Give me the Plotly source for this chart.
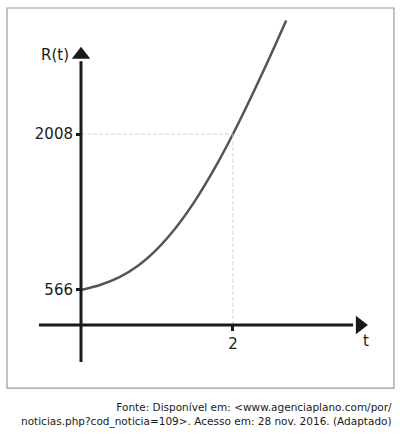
import plotly.graph_objects as go

# curve
t_vals = [0, 0.25, 0.5, 0.75, 1.0, 1.25, 1.5, 1.75, 2.0, 2.25, 2.5, 2.7]
r_vals = [566, 612, 682, 790, 944, 1144, 1390, 1680, 2008, 2366, 2744, 3058]

y_ticks = [566, 2008]
x_ticks = [2]
t_mark = 2
r_mark = 2008

footer = ("Fonte: Disponível em: &lt;www.agenciaplano.com/por/<br>"
          "noticias.php?cod_noticia=109&gt;. Acesso em: 28 nov. 2016. (Adaptado)")

# where the drawn axes sit (data units)
x_axis_r = 242.5
x_axis_from, x_axis_to = -0.553, 3.58
y_axis_from, y_axis_to = -100, 2680

font = "DejaVu Sans"
ink = "#1a1a1a"

fig = go.Figure()

fig.add_trace(go.Scatter(x=t_vals, y=r_vals, mode="lines",
                         line=dict(color="#555555", width=2.5, shape="spline", smoothing=0.8),
                         hoverinfo="skip"))

# arrow heads
fig.add_trace(go.Scatter(x=[3.67], y=[x_axis_r], mode="markers",
                         marker=dict(symbol="triangle-right", size=16, color=ink),
                         hoverinfo="skip", cliponaxis=False))
fig.add_trace(go.Scatter(x=[0], y=[2740], mode="markers",
                         marker=dict(symbol="triangle-up", size=16, color=ink),
                         hoverinfo="skip", cliponaxis=False))

# dashed guides
guide = dict(color="#d4d4d4", width=1, dash="4px,2px")
fig.add_shape(type="line", x0=0, x1=t_mark, y0=r_mark, y1=r_mark, line=guide)
fig.add_shape(type="line", x0=t_mark, x1=t_mark, y0=x_axis_r, y1=r_mark, line=guide)

# axis lines
fig.add_shape(type="line", x0=x_axis_from, x1=x_axis_to, y0=x_axis_r, y1=x_axis_r,
              line=dict(color=ink, width=3))
fig.add_shape(type="line", x0=0, x1=0, y0=y_axis_from, y1=y_axis_to,
              line=dict(color=ink, width=3))

# frame
fig.add_shape(type="rect", xref="paper", yref="paper",
              x0=0.0174, x1=0.980, y0=0.110, y1=0.9817,
              line=dict(color="#999999", width=1.2))

fig.add_annotation(x=-0.13, y=2738, text="R(t)", showarrow=False, xanchor="right",
                   font=dict(family=font, size=15, color=ink))
fig.add_annotation(x=3.75, y=95, text="t", showarrow=False,
                   font=dict(family=font, size=15, color=ink))
fig.add_annotation(xref="paper", yref="paper", x=0.980, y=0.0493, text=footer,
                   showarrow=False, xanchor="right", yanchor="middle", align="right",
                   font=dict(family=font, size=10.5, color=ink))

fig.update_layout(
    width=402, height=436,
    margin=dict(l=0, r=0, t=0, b=0),
    paper_bgcolor="white", plot_bgcolor="white",
    showlegend=False,
    xaxis=dict(range=[-1.066, 4.224], domain=[0, 1], anchor="free", position=0.2546,
               showgrid=False, zeroline=False, showline=False,
               tickvals=x_ticks, ticks="outside", ticklen=5, tickwidth=3, tickcolor=ink,
               tickfont=dict(family=font, size=15, color=ink)),
    yaxis=dict(range=[-784, 3247], domain=[0, 1], anchor="free", position=0.2015,
               showgrid=False, zeroline=False, showline=False,
               tickvals=y_ticks, ticks="outside", ticklen=5, tickwidth=3, tickcolor=ink,
               tickfont=dict(family=font, size=15, color=ink)),
)

fig.write_html("out.html", config={"displayModeBar": False},
               post_script="document.body.style.margin='0';")
